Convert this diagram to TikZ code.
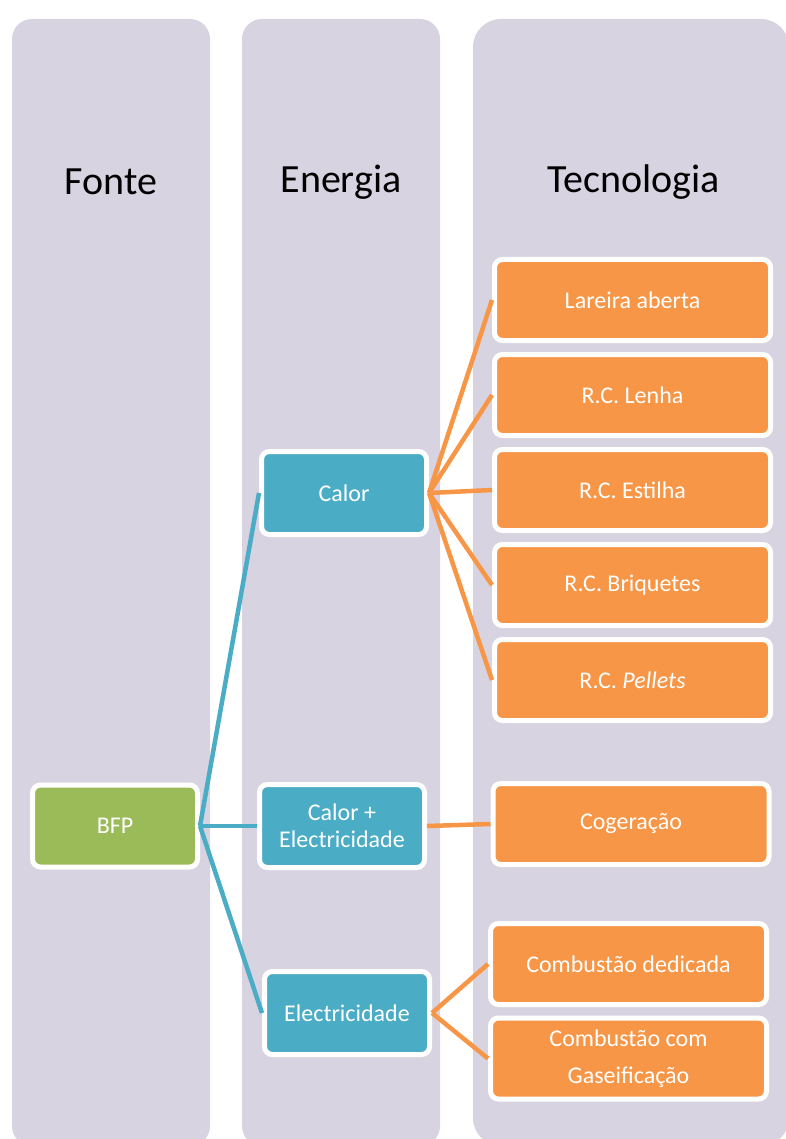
\documentclass[tikz,border=0pt]{standalone}
\usepackage{fontspec}
\setmainfont{Carlito}
\usetikzlibrary{positioning}
\definecolor{colfill}{HTML}{D8D3E1}
\definecolor{srcgreen}{HTML}{9BBB59}
\definecolor{enblue}{HTML}{4BACC6}
\definecolor{techorange}{HTML}{F79646}
\tikzset{
  column/.style={fill=colfill,rounded corners=20pt},
  title/.style={font=\fontsize{40}{46}\selectfont},
  box/.style={rectangle,draw=white,line width=5pt,rounded corners=8pt,text=white,align=center,
              inner sep=0,font=\fontsize{24}{27}\selectfont},
  source/.style={box,fill=srcgreen,minimum width=165pt,minimum height=82pt},
  energy/.style={box,fill=enblue,minimum width=165pt,minimum height=83pt},
  tech/.style={box,fill=techorange,minimum width=276pt,minimum height=81pt},
  % connectors between the three columns
  link/.style={line width=4.5pt},
  blink/.style={link,draw=enblue},
  olink/.style={link,draw=techorange},
}
\begin{document}
\begin{tikzpicture}[x=1pt,y=-1pt]
  \useasboundingbox (0,0) rectangle (786,1139);
  \clip (0,0) rectangle (786,1139);
  % the three columns
  \fill[column] (12,19) rectangle (210,1146);
  \fill[column] (242,19) rectangle (440,1146);
  \fill[column,rounded corners=28pt] (473,19) rectangle (789,1146);
  \node[title] (tfonte) at (111,182) {Fonte};
  \node[title] (tenergia) at (341,182) {Energia};
  \node[title] (ttecno) at (634,182) {Tecnologia};
  % source
  \node[source] (bfp) at (115,826) {BFP};
  % energy
  \node[energy] (calor) at (344,493) {Calor};
  \node[energy] (calel) at (342,826) {Calor +\\Electricidade};
  \node[energy] (elec) at (347,1013) {Electricidade};
  % technologies
  \foreach \i/\txt/\y in {1/{Lareira aberta}/300,2/{R.C. Lenha}/395,3/{R.C. Estilha}/490,
                          4/{R.C. Briquetes}/585,5/{R.C. \textit{Pellets}}/680}
    \node[tech] (t\i) at (632.5,\y) {\txt};
  \node[tech] (cog) at (631,824) {Cogeração};
  \node[tech] (cdd) at (628.5,964) {Combustão dedicada};
  \node[tech,font=\fontsize{24}{37}\selectfont] (ccg) at (628.5,1058.5) {Combustão com\\Gaseificação};
  % connectors
  \foreach \n in {calor,calel,elec} { \draw[blink] (bfp.east) -- (\n.west); }
  \foreach \i in {1,...,5} { \draw[olink] (calor.east) -- (t\i.west); }
  \draw[olink] (calel.east) -- (cog.west);
  \draw[olink] (elec.east) -- (cdd.west);
  \draw[olink] (elec.east) -- (ccg.west);
\end{tikzpicture}
\end{document}
